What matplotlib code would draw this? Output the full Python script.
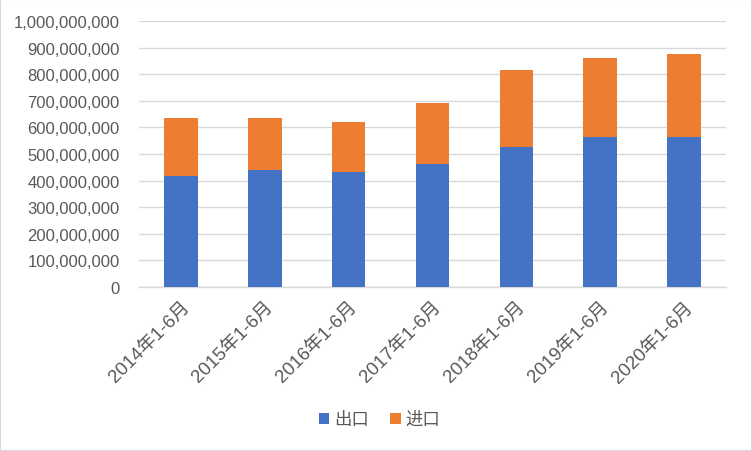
import matplotlib
matplotlib.use("Agg")
import matplotlib.pyplot as plt
from matplotlib.ticker import FuncFormatter, MultipleLocator
from matplotlib.patches import Rectangle
import numpy as np

plt.rcParams['font.family'] = ['Liberation Sans', 'Noto Sans CJK SC', 'DejaVu Sans']

categories = ["2014年1-6月", "2015年1-6月", "2016年1-6月", "2017年1-6月",
              "2018年1-6月", "2019年1-6月", "2020年1-6月"]
exports = [416e6, 441e6, 432e6, 464e6, 527e6, 565e6, 565e6]
totals = [635e6, 635e6, 620e6, 692e6, 815e6, 862e6, 877e6]
imports = [t - e for t, e in zip(totals, exports)]
series_names = ["出口", "进口"]

blue = "#4472C4"
orange = "#ED7D31"
txt = "#595959"
grid = "#D9D9D9"

fig = plt.figure(figsize=(7.52, 4.52), dpi=100)
ax = fig.add_axes([139/752, 1-288/452, 587/752, 266/452])

x = np.arange(len(categories))
ax.bar(x, exports, width=0.4, color=blue, label=series_names[0], zorder=3)
ax.bar(x, imports, width=0.4, bottom=exports, color=orange, label=series_names[1], zorder=3)

ax.set_xlim(-0.5, len(categories)-0.5)
ax.set_ylim(0, 1e9)
ax.yaxis.set_major_locator(MultipleLocator(1e8))
ax.yaxis.set_major_formatter(FuncFormatter(lambda v, p: f"{int(round(v)):,}"))
ax.grid(axis='y', color=grid, linewidth=1.0, zorder=0)
for s in ['top', 'right', 'left']:
    ax.spines[s].set_visible(False)
ax.spines['bottom'].set_color(grid)
ax.spines['bottom'].set_linewidth(1.0)
ax.tick_params(axis='y', length=0, pad=14, labelsize=12, labelcolor=txt)
ax.tick_params(axis='x', length=0, pad=8, labelsize=13.5, labelcolor=txt)
ax.set_xticks(x)
ax.set_xticklabels(categories, rotation=45, ha='right', rotation_mode='anchor')
for lbl in ax.get_xticklabels():
    lbl.set_family(['Liberation Sans', 'Noto Sans CJK SC'])

leg = fig.legend(loc='center', bbox_to_anchor=(0.505, 1-420/452), ncol=2, frameon=False,
                 fontsize=12.5, handlelength=0.6, handleheight=0.6, handletextpad=0.3,
                 columnspacing=1.2, labelcolor=txt)

fig.patches.append(Rectangle((0, 0), 1, 1, transform=fig.transFigure, fill=False,
                             edgecolor=grid, linewidth=1.5))

fig.savefig("out.png", dpi=100)
